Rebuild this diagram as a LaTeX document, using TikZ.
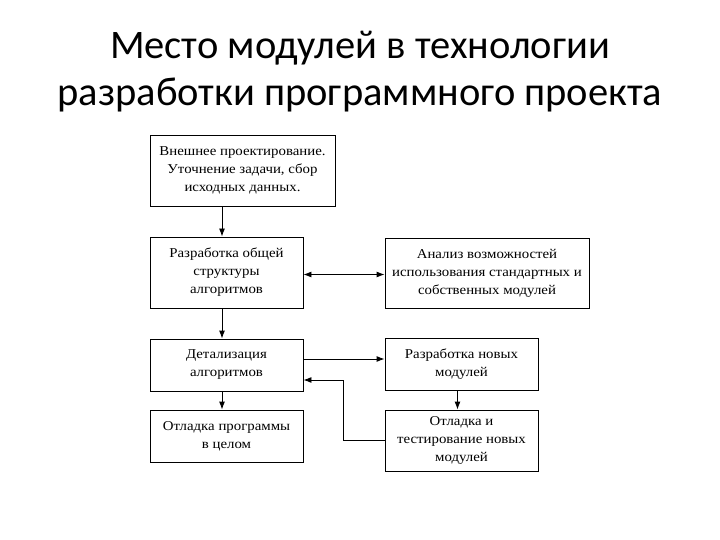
\documentclass[tikz,border=0pt]{standalone}
\usepackage{fontspec}
\setmainfont{Liberation Serif}[FakeStretch=1.1]
\newfontfamily\titlefont{Carlito}
\usetikzlibrary{arrows.meta}
\begin{document}
\begin{tikzpicture}[x=1pt,y=-1pt,
  box/.style={draw=black, line width=0.9pt, rectangle, align=center, inner sep=2pt,
    font=\fontsize{13.5}{18}\selectfont},
  arr/.style={-{Latex[length=8pt,width=6pt]}, line width=0.9pt},
  arrb/.style={{Latex[length=8pt,width=6pt]}-{Latex[length=8pt,width=6pt]}, line width=0.9pt},
  ttl/.style={font=\titlefont\fontsize{40.5}{47}\selectfont, align=center}]
\useasboundingbox (0,0) rectangle (720,540);
\node[ttl] (title) at (360,72) {Место модулей в технологии\\разработки программного проекта};
\node[box, minimum width=185pt, minimum height=71pt] (b1) at (242.5,170.5)
  {Внешнее проектирование.\\Уточнение задачи, сбор\\исходных данных.};
\node[box, minimum width=153pt, minimum height=71pt] (b2) at (226.5,272.5)
  {Разработка общей\\структуры\\алгоритмов};
\node[box, minimum width=204pt, minimum height=70pt] (b3) at (487,273)
  {Анализ возможностей\\использования стандартных и\\собственных модулей};
\node[box, minimum width=153pt, minimum height=52pt] (b4) at (226.5,365)
  {Детализация\\алгоритмов};
\node[box, minimum width=153pt, minimum height=52pt] (b5) at (461.5,364)
  {Разработка новых\\модулей};
\node[box, minimum width=153pt, minimum height=52pt] (b6) at (226.5,436)
  {Отладка программы\\в целом};
\node[box, minimum width=153pt, minimum height=61pt] (b7) at (461.5,440.5)
  {Отладка и\\тестирование новых\\модулей};
\draw[arr] ([xshift=-20.5pt]b1.south) -- ([xshift=-4.5pt]b2.north);
\draw[arr] ([xshift=-4.5pt]b2.south) -- ([xshift=-4.5pt]b4.north);
\draw[arr] ([xshift=-4.5pt]b4.south) -- ([xshift=-4.5pt]b6.north);
\draw[arr] ([xshift=-4pt]b5.south) -- ([xshift=-4pt]b7.north);
\draw[arrb] ([yshift=-2pt]b2.east) -- ([yshift=-2pt]b2.east -| b3.west);
\draw[arr] ([yshift=6pt]b4.east) -- ([yshift=6pt]b4.east -| b5.west);
\draw[arr] (b7.west) -- ++(-41,0) |- ([yshift=-15pt]b4.east);
\end{tikzpicture}
\end{document}
